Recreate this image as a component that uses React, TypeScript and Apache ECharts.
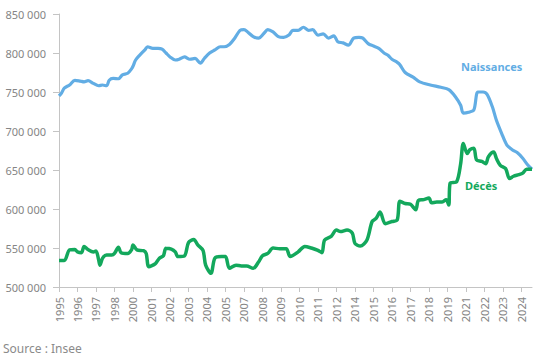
import React, { useEffect, useRef } from "react";
import * as echarts from "echarts";

// Month offsets counted from May 1995 (0 = 1995-05)
const birthMonths = [0, 2, 4, 8, 12, 16, 19, 22, 26, 30, 33, 36, 38, 41, 45, 48, 52, 55, 56, 58, 61, 65, 67, 71, 75, 78, 81, 84, 88, 91, 95, 99, 103, 107, 110, 114, 118, 122, 125, 129, 133, 137, 140, 143, 147, 151, 155, 158, 162, 166, 170, 174, 177, 181, 185, 189, 192, 196, 200, 204, 208, 211, 215, 219, 223, 227, 230, 234, 238, 242, 246, 249, 252, 256, 258, 262, 268, 273, 281, 289, 295, 300, 304, 306, 310, 314, 317, 321, 324, 328, 331, 335, 339, 343, 347, 351, 355, 358];
const births = [745000, 749000, 755000, 759000, 765000, 764000, 763000, 764500, 761000, 758000, 759000, 758000, 765000, 767500, 767000, 772000, 774000, 780000, 783000, 791000, 797000, 804000, 808000, 806000, 806000, 805000, 800000, 795000, 791000, 792000, 795000, 792000, 793000, 787000, 793000, 800000, 804000, 808000, 808000, 811000, 819000, 829000, 830000, 826600, 821000, 819000, 825000, 830000, 827000, 821000, 820000, 823000, 829000, 829000, 833000, 829000, 830000, 823000, 824500, 819000, 822000, 814500, 813000, 810000, 819000, 820000, 819000, 812000, 809000, 806000, 800000, 797000, 792000, 788000, 785000, 775000, 769000, 763000, 759000, 756000, 753000, 744000, 733000, 723000, 724000, 727000, 750000, 750000, 747000, 731000, 714000, 697000, 682000, 676000, 672000, 665000, 656000, 651000];

const deathMonths = [0, 4, 8, 12, 14, 17, 19, 22, 26, 28, 30, 31, 33, 36, 40, 42, 45, 47, 52, 55, 56, 59, 64, 66, 68, 73, 76, 79, 81, 85, 88, 90, 95, 98, 102, 105, 109, 111, 115, 118, 123, 126, 129, 134, 138, 142, 147, 151, 154, 158, 162, 167, 172, 175, 181, 186, 191, 196, 199, 201, 206, 210, 213, 218, 222, 224, 228, 233, 237, 240, 243, 247, 252, 256, 258, 262, 266, 270, 272, 276, 280, 282, 286, 290, 293, 295, 296, 301, 304, 306, 309, 311, 314, 316, 320, 323, 325, 329, 331, 334, 338, 341, 344, 348, 351, 354, 358];
const deaths = [534000, 534000, 547500, 548000, 545000, 544000, 552000, 548000, 545000, 546000, 535000, 528000, 537000, 541000, 541000, 543000, 551000, 544000, 543000, 548000, 554000, 547500, 546500, 543000, 526000, 530000, 537000, 540000, 549600, 548700, 545000, 539000, 540000, 557000, 561000, 554000, 547000, 528000, 517500, 537000, 539000, 539000, 524000, 528000, 527000, 527000, 524000, 532000, 540000, 543000, 550000, 549000, 549000, 539000, 545000, 552000, 550000, 547000, 544000, 560000, 565000, 573000, 571000, 573000, 569000, 556000, 552500, 560000, 584000, 588000, 596000, 581000, 584000, 586000, 610000, 607000, 606000, 599000, 611000, 612000, 614000, 608000, 609000, 609000, 612000, 605000, 633000, 635000, 658000, 684000, 671000, 676000, 678000, 663000, 661000, 658000, 667000, 673000, 665000, 656000, 652000, 639000, 642000, 644000, 646000, 651000, 651000];

// Tick positions: every 14 months from May 1995
const tickMonths = [0, 14, 28, 42, 56, 70, 84, 98, 112, 126, 140, 154, 168, 182, 196, 210, 224, 238, 252, 266, 280, 294, 308, 322, 336, 350];
const startYear = 1995;
const startMonth = 4; // May (0-based)

const seriesNames = ["Naissances", "Décès"];
const sourceText = "Source : Insee";

const BLUE = "#62ade4";
const GREEN = "#13a85c";
const AXIS = "#c4c4c4";
const LABEL = "#858585";
const FONT = "'Noto Sans', sans-serif";

function fmtThousands(v: number): string {
  const s = String(Math.round(v));
  return s.replace(/\B(?=(\d{3})+(?!\d))/g, " ");
}

export default function App() {
  const ref = useRef<HTMLDivElement>(null);
  useEffect(() => {
    if (!ref.current) return;
    const chart = echarts.init(ref.current, undefined, { renderer: "svg" });
    const birthData = birthMonths.map((m, i) => [m, births[i]]);
    const deathData = deathMonths.map((m, i) => [m, deaths[i]]);
    chart.setOption({
      animation: false,
      textStyle: { fontFamily: FONT },
      grid: { left: 59, right: 17, top: 14, bottom: 73 },
      xAxis: {
        type: "value",
        min: 0,
        max: 358,
        splitLine: { show: false },
        axisLine: { show: true, lineStyle: { color: AXIS, width: 1 } },
        axisTick: {
          show: true,
          length: 5,
          customValues: tickMonths,
          lineStyle: { color: AXIS },
        },
        axisLabel: {
          customValues: tickMonths,
          rotate: 90,
          margin: 10,
          color: LABEL,
          fontSize: 11,
          fontFamily: FONT,
          formatter: (v: number) =>
            String(startYear + Math.floor((startMonth + v) / 12)),
        },
      },
      yAxis: {
        type: "value",
        min: 500000,
        max: 850000,
        interval: 50000,
        splitLine: { show: false },
        axisLine: { show: true, lineStyle: { color: AXIS, width: 1 } },
        axisTick: { show: true, length: 6, lineStyle: { color: AXIS } },
        axisLabel: {
          margin: 13,
          color: LABEL,
          fontSize: 11,
          fontFamily: FONT,
          formatter: (v: number) => fmtThousands(v),
        },
      },
      series: [
        {
          name: seriesNames[0],
          type: "line",
          data: birthData,
          showSymbol: false,
          smooth: 0.3,
          lineStyle: { color: BLUE, width: 3.2 },
          itemStyle: { color: BLUE },
          z: 2,
        },
        {
          name: seriesNames[1],
          type: "line",
          data: deathData,
          showSymbol: false,
          smooth: 0.3,
          lineStyle: { color: GREEN, width: 3.5 },
          itemStyle: { color: GREEN },
          z: 3,
        },
      ],
      graphic: [
        {
          type: "text",
          left: 461,
          top: 61,
          style: {
            text: seriesNames[0],
            fill: BLUE,
            font: `bold 11px ${FONT}`,
          },
        },
        {
          type: "text",
          left: 465,
          top: 180,
          style: {
            text: seriesNames[1],
            fill: GREEN,
            font: `bold 11px ${FONT}`,
          },
        },
        {
          type: "text",
          left: 3,
          top: 342,
          style: {
            text: sourceText,
            fill: "#8a8a8a",
            font: `12px ${FONT}`,
          },
        },
      ],
    });
    return () => chart.dispose();
  }, []);
  return (
    <div
      ref={ref}
      style={{ position: "absolute", left: 0, top: 0, width: 549, height: 360, background: "#fff" }}
    />
  );
}
